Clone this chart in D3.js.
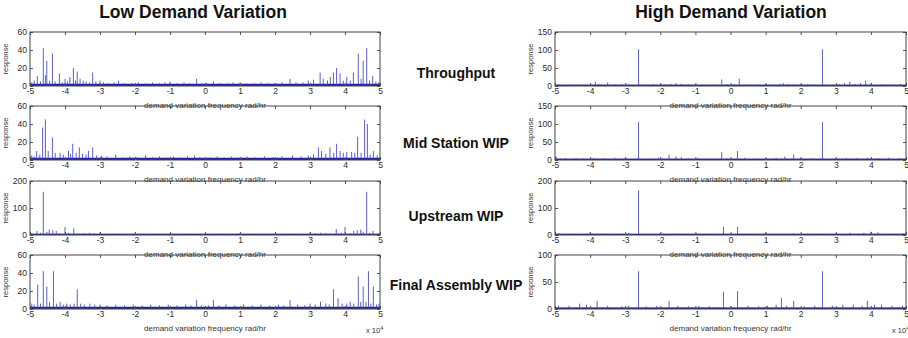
<!DOCTYPE html>
<html>
<head>
<meta charset="utf-8">
<script src="https://cdn.jsdelivr.net/npm/d3@7"></script>
<style>
  body { margin: 0; background: #fff; }
  svg { display: block; font-family: "Liberation Sans", Arial, sans-serif; }
  .tk text { font-size: 8.5px; fill: #2a2a2a; }
  .tk line { stroke: #555; }
  .tk path { stroke: none; }
</style>
</head>
<body>
<script>
// spectra of the line, low vs high demand variation

var width = 908,
    height = 338;

var columnTitles = ["Low Demand Variation", "High Demand Variation"];
var rowLabels = ["Throughput", "Mid Station WIP", "Upstream WIP", "Final Assembly WIP"];
var freqTicks = [-5, -4, -3, -2, -1, 0, 1, 2, 3, 4, 5];

var lowTicks  = [[0, 20, 40, 60], [0, 20, 40, 60], [0, 100, 200], [0, 20, 40, 60]];
var highTicks = [[0, 50, 100, 150], [0, 50, 100, 150], [0, 100, 200], [0, 50, 100]];

// noise floor (response units) under the spikes
var lowFloor  = [2.5, 2.5, 5, 2.5];
var highFloor = [4, 4, 5, 3];

// [frequency x10^4 rad/hr, response]
var lowThroughput = [[-4.95,4],[-4.88,6],[-4.79,11],[-4.70,5],[-4.62,42],[-4.56,12],[-4.52,28],[-4.44,6],[-4.36,36],[-4.28,5],
  [-4.16,14],[-4.08,4],[-4.00,8],[-3.93,5],[-3.86,10],[-3.76,20],[-3.70,6],[-3.65,16],[-3.57,8],[-3.48,6],[-3.40,5],[-3.30,4],
  [-3.21,15],[-3.12,5],[-3.00,6],[-2.90,4],[-2.75,3],[-2.60,4],[-2.47,6],[-2.30,3],[-2.10,3],[-1.90,4],[-1.70,3],[-1.50,4],
  [-1.30,3],[-1.15,4],[-1.00,5],[-0.80,3],[-0.60,4],[-0.45,3],[-0.24,8],[-0.10,3],[0.05,3],[0.24,5],[0.45,3],[0.65,3],[0.80,4],
  [1.00,4],[1.20,3],[1.40,3],[1.60,4],[1.80,3],[2.00,3],[2.20,4],[2.43,8],[2.60,4],[2.80,4],[2.95,6],[3.10,7],[3.29,15],
  [3.38,8],[3.50,6],[3.58,10],[3.67,15],[3.76,20],[3.86,14],[3.95,6],[4.05,10],[4.15,6],[4.24,15],[4.38,36],[4.46,8],
  [4.52,28],[4.62,42],[4.70,6],[4.79,11],[4.88,5],[4.96,4]];

var lowMid = [[-4.95,5],[-4.88,4],[-4.81,10],[-4.72,6],[-4.64,36],[-4.56,45],[-4.48,10],[-4.36,25],[-4.28,8],[-4.14,8],
  [-4.05,6],[-3.90,10],[-3.84,7],[-3.78,18],[-3.68,8],[-3.59,14],[-3.50,7],[-3.40,6],[-3.33,10],[-3.21,14],[-3.10,5],
  [-2.95,5],[-2.80,4],[-2.55,6],[-2.35,3],[-2.15,4],[-1.95,3],[-1.70,5],[-1.50,3],[-1.30,4],[-1.10,3],[-0.90,4],[-0.70,3],
  [-0.50,4],[-0.30,5],[-0.15,3],[0.15,3],[0.35,4],[0.55,3],[0.75,4],[0.95,3],[1.20,4],[1.45,3],[1.70,4],[1.95,3],[2.20,4],
  [2.50,5],[2.75,4],[2.95,5],[3.10,6],[3.24,14],[3.33,10],[3.45,7],[3.57,14],[3.68,8],[3.76,18],[3.86,10],[3.95,8],
  [4.05,9],[4.19,9],[4.28,8],[4.36,26],[4.46,8],[4.56,45],[4.64,40],[4.72,6],[4.81,10],[4.92,5]];

var lowUpstream = [[-4.95,6],[-4.80,15],[-4.70,8],[-4.62,160],[-4.52,12],[-4.45,20],[-4.35,18],[-4.25,15],[-4.15,6],
  [-4.00,30],[-3.90,8],[-3.75,25],[-3.60,5],[-3.45,6],[-3.30,8],[-3.15,6],[-3.00,10],[-2.80,4],[-2.50,5],[-2.20,4],
  [-2.00,5],[-1.70,4],[-1.40,5],[-1.00,6],[-0.70,4],[-0.40,5],[-0.10,4],[0.10,4],[0.40,5],[0.70,4],[1.00,8],[1.40,5],
  [1.70,4],[2.00,5],[2.20,4],[2.50,5],[2.80,4],[3.00,10],[3.15,6],[3.30,8],[3.45,6],[3.60,5],[3.75,22],[3.90,8],
  [4.00,30],[4.15,6],[4.25,15],[4.35,18],[4.45,20],[4.52,12],[4.62,160],[4.70,8],[4.80,15],[4.95,6]];

var lowFinal = [[-4.95,6],[-4.88,5],[-4.78,27],[-4.70,6],[-4.62,42],[-4.52,25],[-4.44,8],[-4.33,42],[-4.24,6],[-4.14,8],
  [-4.05,5],[-3.95,6],[-3.85,5],[-3.74,6],[-3.65,22],[-3.55,6],[-3.45,5],[-3.29,6],[-3.15,5],[-3.00,5],[-2.80,4],[-2.55,5],
  [-2.30,4],[-2.05,5],[-1.80,4],[-1.55,5],[-1.30,4],[-1.05,5],[-0.80,4],[-0.55,5],[-0.40,4],[-0.24,10],[-0.10,4],[0.10,4],
  [0.24,10],[0.40,4],[0.60,5],[0.85,4],[1.10,5],[1.35,4],[1.60,5],[1.85,4],[2.10,5],[2.25,4],[2.43,10],[2.65,5],[2.85,4],
  [3.00,6],[3.15,5],[3.30,8],[3.45,6],[3.55,5],[3.67,22],[3.80,12],[3.92,6],[4.05,6],[4.15,8],[4.25,6],[4.38,36],
  [4.45,8],[4.52,25],[4.60,8],[4.67,42],[4.74,6],[4.81,25],[4.90,5],[4.97,6]];

var highThroughput = [[-4.90,5],[-4.60,4],[-4.30,4],[-4.00,5],[-3.85,12],[-3.75,6],[-3.50,10],[-3.30,5],[-3.10,5],
  [-2.90,4],[-2.62,102],[-2.40,4],[-2.20,5],[-2.00,6],[-1.85,5],[-1.70,6],[-1.55,8],[-1.40,6],[-1.20,4],[-1.00,4],
  [-0.80,4],[-0.50,4],[-0.25,18],[-0.10,5],[0.10,5],[0.25,20],[0.50,4],[0.80,4],[1.00,5],[1.20,4],[1.40,6],[1.50,8],
  [1.65,6],[1.80,5],[2.00,5],[2.20,4],[2.40,4],[2.62,102],[2.90,4],[3.10,5],[3.25,8],[3.40,12],[3.55,6],[3.70,8],
  [3.85,15],[4.00,6],[4.30,5],[4.60,4],[4.85,6]];

var highMid = [[-4.97,10],[-4.70,5],[-4.40,6],[-4.20,4],[-3.90,6],[-3.60,5],[-3.30,6],[-3.00,5],[-2.62,105],[-2.30,4],
  [-2.05,6],[-1.75,15],[-1.55,10],[-1.40,8],[-1.20,5],[-0.90,5],[-0.60,4],[-0.25,22],[-0.10,5],[0.20,25],[0.40,6],
  [0.70,4],[1.00,5],[1.30,6],[1.55,10],[1.80,15],[2.00,5],[2.30,5],[2.62,105],[3.00,5],[3.30,6],[3.60,5],[3.90,6],
  [4.20,5],[4.50,6],[4.80,5]];

var highUpstream = [[-4.90,6],[-4.60,5],[-4.00,10],[-3.60,5],[-3.20,5],[-2.90,8],[-2.62,165],[-2.30,4],[-2.00,8],
  [-1.60,5],[-1.30,5],[-1.00,4],[-0.70,5],[-0.20,30],[0.20,30],[0.60,5],[1.00,8],[1.40,4],[1.80,5],[2.20,4],[2.60,5],
  [3.00,5],[3.40,8],[3.80,8],[4.00,12],[4.20,10],[4.50,5],[4.90,6]];

var highFinal = [[-4.90,6],[-4.60,6],[-4.30,10],[-4.10,8],[-3.80,15],[-3.50,6],[-3.10,5],[-2.90,6],[-2.62,70],[-2.40,5],
  [-2.10,6],[-1.75,15],[-1.50,6],[-1.20,5],[-0.90,6],[-0.60,5],[-0.20,32],[0.00,5],[0.20,33],[0.50,6],[0.80,5],
  [1.05,6],[1.30,8],[1.45,20],[1.60,6],[1.80,15],[2.10,5],[2.40,6],[2.62,70],[2.90,6],[3.20,8],[3.50,8],[3.75,6],
  [3.90,15],[4.10,8],[4.30,8],[4.60,6],[4.90,6]];

var lowSeries  = [lowThroughput, lowMid, lowUpstream, lowFinal];
var highSeries = [highThroughput, highMid, highUpstream, highFinal];

// layout
var colLeft = [30, 555],
    colWidth = [350, 351],
    titleX = [193, 731],
    rowTop = [32, 106, 181, 255],
    panelH = 54,
    labelX = 456,
    labelY = [78, 148, 221, 290];

var svg = d3.select("body").append("svg")
    .attr("width", width)
    .attr("height", height);

var columns = [
  { series: lowSeries,  ticks: lowTicks,  floor: lowFloor },
  { series: highSeries, ticks: highTicks, floor: highFloor }
];

columns.forEach(function(col, c) {

  svg.append("text")
      .attr("x", titleX[c])
      .attr("y", 18)
      .attr("text-anchor", "middle")
      .style("font-size", "17.5px")
      .style("font-weight", "bold")
      .style("fill", "#111")
      .text(columnTitles[c]);

  col.series.forEach(function(data, r) {
    var top = rowTop[r], bottom = top + panelH;
    var ticks = col.ticks[r];

    var x = d3.scaleLinear().domain([-5, 5]).range([colLeft[c], colLeft[c] + colWidth[c]]);
    var y = d3.scaleLinear().domain([0, d3.max(ticks)]).range([bottom, top]);

    var g = svg.append("g");

    // x label sits under the axis (the next panel's frame cuts through it)
    g.append("text")
        .attr("x", x(0))
        .attr("y", bottom + 22)
        .attr("text-anchor", "middle")
        .style("font-size", "8px")
        .style("fill", "#333")
        .text("demand variation frequency rad/hr");

    // noise floor
    g.append("rect")
        .attr("x", x(-5))
        .attr("y", y(col.floor[r]))
        .attr("width", x(5) - x(-5))
        .attr("height", y(0) - y(col.floor[r]))
        .attr("fill", "#23239a");

    // spikes
    g.selectAll("line.spike").data(data).enter().append("line")
        .attr("class", "spike")
        .attr("x1", function(d) { return x(d[0]); })
        .attr("x2", function(d) { return x(d[0]); })
        .attr("y1", y(0))
        .attr("y2", function(d) { return y(d[1]); })
        .attr("stroke", "#3535c0")
        .attr("stroke-width", 0.8);

    // frame + inside ticks on all four sides (matlab style)
    g.append("g").attr("class", "tk")
        .attr("transform", "translate(0," + bottom + ")")
        .call(d3.axisBottom(x).tickValues(freqTicks).tickSize(-3).tickPadding(2)
              .tickFormat(function(d) { return String(d); }));
    g.append("g").attr("class", "tk")
        .attr("transform", "translate(0," + top + ")")
        .call(d3.axisTop(x).tickValues(freqTicks).tickSize(-3).tickFormat(""));
    g.append("g").attr("class", "tk")
        .attr("transform", "translate(" + x(-5) + ",0)")
        .call(d3.axisLeft(y).tickValues(ticks).tickSize(-3).tickPadding(3)
              .tickFormat(function(d) { return String(d); }));
    g.append("g").attr("class", "tk")
        .attr("transform", "translate(" + x(5) + ",0)")
        .call(d3.axisRight(y).tickValues(ticks).tickSize(-3).tickFormat(""));

    g.append("rect")
        .attr("x", x(-5))
        .attr("y", top)
        .attr("width", x(5) - x(-5))
        .attr("height", panelH)
        .attr("fill", "none")
        .attr("stroke", "#444")
        .attr("stroke-width", 1);

    g.append("text")
        .attr("transform", "translate(" + (colLeft[c] - 22) + "," + (top + panelH / 2) + ") rotate(-90)")
        .attr("text-anchor", "middle")
        .style("font-size", "7.5px")
        .style("fill", "#333")
        .text("response");

    if (r === col.series.length - 1) {
      var t = g.append("text")
          .attr("x", x(5) - 14)
          .attr("y", bottom + 24)
          .style("font-size", "7.5px")
          .style("fill", "#333")
          .text("x 10");
      t.append("tspan").attr("dy", -3).style("font-size", "5.5px").text("4");
    }
  });
});

// row labels in the middle gutter
svg.selectAll("text.rowlabel").data(rowLabels).enter().append("text")
    .attr("class", "rowlabel")
    .attr("x", labelX)
    .attr("y", function(d, i) { return labelY[i]; })
    .attr("text-anchor", "middle")
    .style("font-size", "14px")
    .style("font-weight", "bold")
    .style("fill", "#111")
    .text(function(d) { return d; });
</script>
</body>
</html>
